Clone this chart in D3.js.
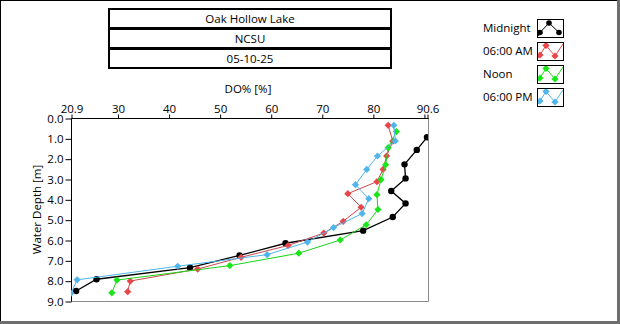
<!DOCTYPE html>
<html>
<head>
<meta charset="utf-8">
<script src="https://cdn.jsdelivr.net/npm/d3@7"></script>
<style>
  html, body { margin: 0; padding: 0; background: #fff; }
  svg { display: block; font-family: "Open Sans", "Noto Sans", sans-serif; }
</style>
</head>
<body>
<svg id="chart" width="620" height="324"></svg>
<script>
// Header lines
const titleLines = ["Oak Hollow Lake", "NCSU", "05-10-25"];

// Series names and colours
const seriesNames = ["Midnight", "06:00 AM", "Noon", "06:00 PM"];
const seriesColors = ["#000000", "#e8474a", "#19e619", "#4fb5ea"];
const lineColors = ["#000000", "#c9494b", "#19d419", "#4fb5ea"];

// DO% readings per profile
const midnightDO = [90.6, 88.6, 86.2, 86.4, 83.6, 86.4, 83.9, 78.1, 62.9, 53.9, 44.2, 25.9, 21.9];
const midnightDepth = [0.95, 1.57, 2.28, 2.97, 3.59, 4.2, 4.87, 5.54, 6.16, 6.76, 7.36, 7.93, 8.51];

const amDO = [83.0, 83.9, 82.7, 82.0, 80.8, 75.1, 77.7, 74.2, 70.4, 63.4, 54.2, 45.7, 32.5, 32.0];
const amDepth = [0.36, 1.14, 1.87, 2.53, 3.13, 3.72, 4.39, 5.08, 5.66, 6.27, 6.85, 7.43, 8.02, 8.54];

const noonDO = [84.6, 83.0, 82.5, 81.6, 80.8, 81.0, 78.7, 73.6, 65.5, 52.0, 29.9, 28.9];
const noonDepth = [0.67, 1.46, 2.3, 3.03, 3.77, 4.5, 5.25, 6.0, 6.65, 7.26, 7.97, 8.6];

const pmDO = [84.1, 84.4, 80.9, 78.8, 76.6, 79.2, 77.9, 72.3, 67.2, 59.3, 41.8, 22.1, 20.9];
const pmDepth = [0.36, 1.13, 1.87, 2.53, 3.28, 3.97, 4.7, 5.39, 6.1, 6.72, 7.29, 7.96, 8.62];

// Axis ticks
const xTicks = [20.9, 30, 40, 50, 60, 70, 80, 90, 90.6];
const xTickLabels = ["20.9", "30", "40", "50", "60", "70", "80", "", "90.6"];
const yTicks = [0, 1, 2, 3, 4, 5, 6, 7, 8, 9];

const profiles = [
  { name: seriesNames[0], DO: midnightDO, depth: midnightDepth, marker: "circle" },
  { name: seriesNames[1], DO: amDO, depth: amDepth, marker: "diamond" },
  { name: seriesNames[2], DO: noonDO, depth: noonDepth, marker: "diamond" },
  { name: seriesNames[3], DO: pmDO, depth: pmDepth, marker: "diamond" }
];

const FONT = 11.5;
const svg = d3.select("#chart");
const W = 620, H = 324;

// Panel frame: dark top/left edge, heavier grey bottom/right edge
svg.append("rect").attr("width", W).attr("height", H).attr("fill", "#fff");
svg.append("line").attr("x1", 0).attr("x2", W).attr("y1", 0.5).attr("y2", 0.5).attr("stroke", "#000");
svg.append("line").attr("x1", 0.5).attr("x2", 0.5).attr("y1", 0).attr("y2", H).attr("stroke", "#000");
svg.append("rect").attr("x", 617).attr("y", 0).attr("width", 3).attr("height", H).attr("fill", "#6e6e6e");
svg.append("rect").attr("x", 0).attr("y", 321).attr("width", W).attr("height", 3).attr("fill", "#6e6e6e");

// Header boxes
const boxX = 109, boxW = 282, rowH = 20, boxY = 9;
const header = svg.append("g");
titleLines.forEach((t, i) => {
  header.append("rect")
    .attr("x", boxX).attr("y", boxY + i * rowH)
    .attr("width", boxW).attr("height", rowH - 1)
    .attr("fill", "#fff").attr("stroke", "#000").attr("stroke-width", 2);
  header.append("text")
    .attr("x", boxX + boxW / 2).attr("y", boxY + i * rowH + 14)
    .attr("text-anchor", "middle").attr("font-size", FONT).attr("fill", "#000")
    .text(t);
});

// Plot area
const plot = { left: 71, right: 428, top: 118, bottom: 301 };
const x = d3.scaleLinear().domain([20.9, 90.6]).range([plot.left, plot.right - 1]);
const y = d3.scaleLinear().domain([0, 9]).range([plot.top, plot.bottom]);

const defs = svg.append("defs");
defs.append("clipPath").attr("id", "plotClip")
  .append("rect").attr("x", plot.left).attr("y", plot.top)
  .attr("width", plot.right - plot.left).attr("height", plot.bottom - plot.top);

// Right and bottom plot borders (grey)
svg.append("line").attr("x1", plot.right + 0.5).attr("x2", plot.right + 0.5)
  .attr("y1", plot.top).attr("y2", plot.bottom + 0.5).attr("stroke", "#8a8a8a");
svg.append("line").attr("x1", plot.left).attr("x2", plot.right + 0.5)
  .attr("y1", plot.bottom + 0.5).attr("y2", plot.bottom + 0.5).attr("stroke", "#8a8a8a");

// Top axis (DO%)
const xAxis = d3.axisTop(x).tickValues(xTicks).tickSize(4).tickPadding(2)
  .tickFormat((d, i) => xTickLabels[i]);
const gx = svg.append("g").attr("transform", `translate(0.5,${plot.top + 0.5})`).call(xAxis);
gx.select(".domain").attr("d", `M${plot.left},0H${plot.right}`).attr("stroke", "#000");
gx.selectAll("text").attr("font-size", FONT).attr("fill", "#000")
  .attr("font-family", "Open Sans, Noto Sans, sans-serif");
gx.selectAll("line").attr("stroke", "#000");

// Left axis (depth)
const yAxis = d3.axisLeft(y).tickValues(yTicks).tickSize(6).tickPadding(2).tickFormat(d3.format(".1f"));
const gy = svg.append("g").attr("transform", `translate(${plot.left + 0.5},0.5)`).call(yAxis);
gy.select(".domain").attr("d", `M0,${plot.top}V${plot.bottom}`).attr("stroke", "#000");
gy.selectAll("text").attr("font-size", FONT).attr("fill", "#000")
  .attr("font-family", "Open Sans, Noto Sans, sans-serif");
gy.selectAll("line").attr("stroke", "#000");

// Axis titles
svg.append("text").attr("x", 248).attr("y", 93).attr("text-anchor", "middle")
  .attr("font-size", FONT).text("DO% [%]");
svg.append("text").attr("transform", `translate(41,${(plot.top + plot.bottom) / 2}) rotate(-90)`)
  .attr("text-anchor", "middle").attr("font-size", FONT).text("Water Depth [m]");

// Rotated-square marker, about 7px across
const diamondPath = "M0,-3.6L3.6,0L0,3.6L-3.6,0Z";

// Profiles
const dataLayer = svg.append("g").attr("clip-path", "url(#plotClip)");
profiles.forEach((p, k) => {
  const pts = p.DO.map((v, i) => [v, p.depth[i]]);
  const line = d3.line().x(d => x(d[0])).y(d => y(d[1]));
  dataLayer.append("path").datum(pts)
    .attr("d", line).attr("fill", "none")
    .attr("stroke", lineColors[k]).attr("stroke-width", k === 0 ? 1.3 : 1);
  if (p.marker === "circle") {
    dataLayer.selectAll(null).data(pts).enter().append("circle")
      .attr("cx", d => x(d[0])).attr("cy", d => y(d[1])).attr("r", 3.2)
      .attr("fill", seriesColors[k]);
  } else {
    dataLayer.selectAll(null).data(pts).enter().append("path")
      .attr("d", diamondPath)
      .attr("transform", d => `translate(${x(d[0])},${y(d[1])})`)
      .attr("fill", seriesColors[k]);
  }
});

// Legend
const legend = svg.append("g");
const legX = 483, iconX = 537, legY0 = 19, legStep = 23;
defs.append("clipPath").attr("id", "iconClip")
  .append("rect").attr("x", 1).attr("y", 1).attr("width", 25).attr("height", 17);
profiles.forEach((p, k) => {
  const gy0 = legY0 + k * legStep;
  legend.append("text").attr("x", legX).attr("y", gy0 + 13)
    .attr("font-size", FONT).attr("fill", "#000").text(p.name);
  const ic = legend.append("g").attr("transform", `translate(${iconX},${gy0})`);
  ic.append("rect").attr("x", 0.5).attr("y", 0.5).attr("width", 26).attr("height", 18)
    .attr("fill", "#fff").attr("stroke", "#000");
  const inner = ic.append("g").attr("clip-path", "url(#iconClip)");
  let iconPts, iconMarks;
  if (k === 0) {
    iconPts = [[1, 17], [3, 13.5], [12, 4], [22, 13.5]];
    iconMarks = [[3, 13.5], [12, 4], [22, 13.5]];
  } else {
    iconPts = [[1, 16], [9, 3.5], [18, 14], [26, 2]];
    iconMarks = [[3, 13], [9, 3.5], [18, 14]];
  }
  inner.append("path").attr("d", d3.line()(iconPts)).attr("fill", "none")
    .attr("stroke", seriesColors[k]).attr("stroke-width", 1);
  iconMarks.forEach(m => {
    if (k === 0) {
      inner.append("circle").attr("cx", m[0]).attr("cy", m[1]).attr("r", 2.8).attr("fill", "#000");
    } else {
      inner.append("path").attr("d", diamondPath).attr("transform", `translate(${m[0]},${m[1]})`)
        .attr("fill", seriesColors[k]);
    }
  });
});
</script>
</body>
</html>
